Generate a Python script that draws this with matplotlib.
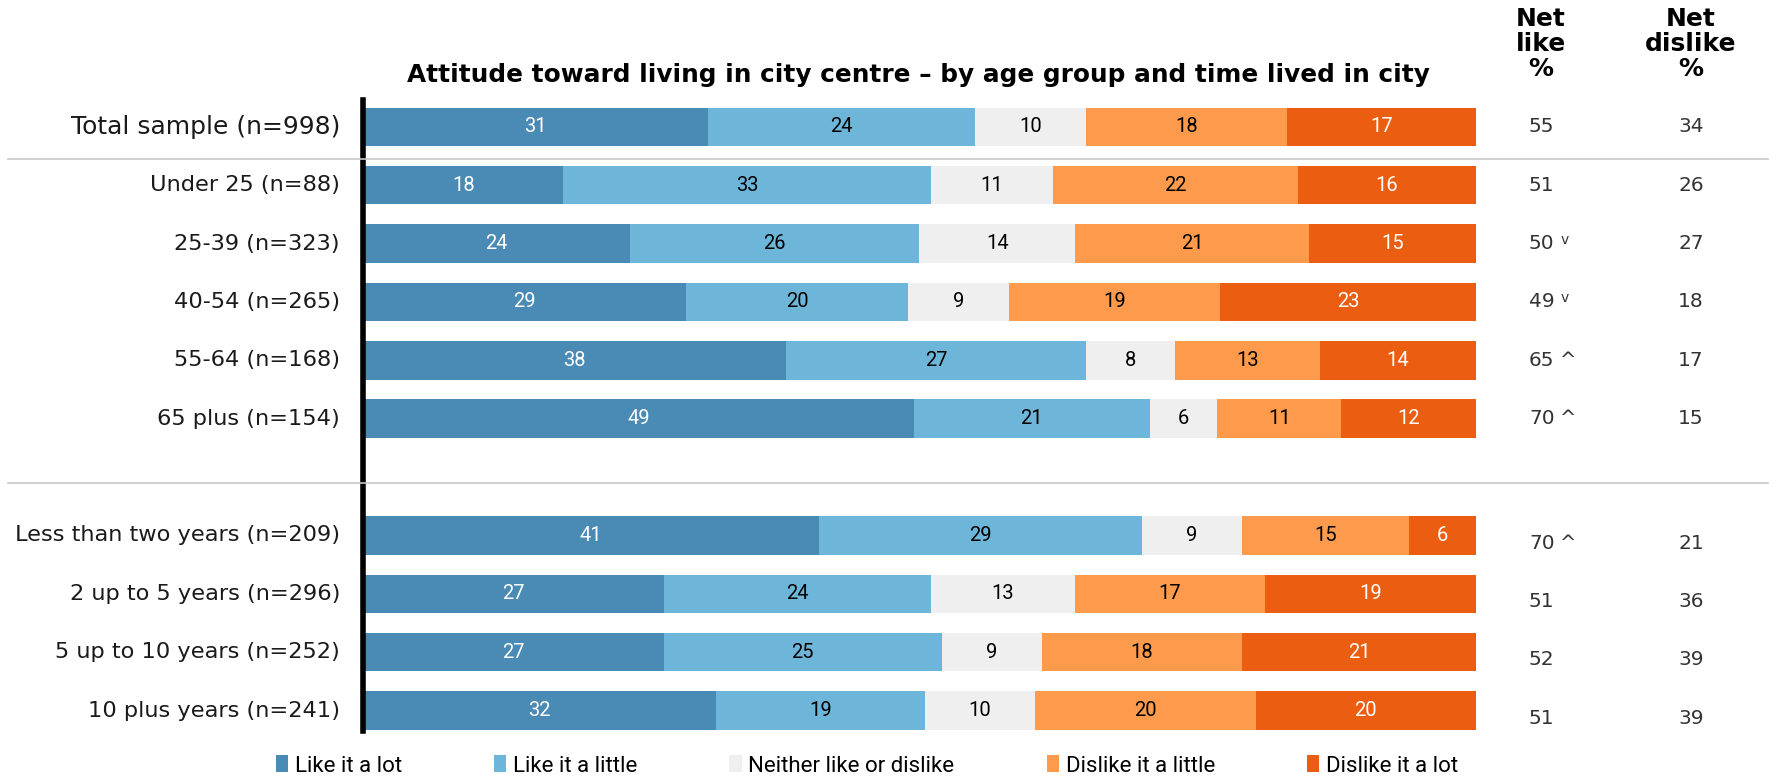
import matplotlib
matplotlib.use("Agg")
import matplotlib.pyplot as plt
from matplotlib.transforms import blended_transform_factory
from matplotlib.patches import Patch
from matplotlib.lines import Line2D

categories = ["Total sample (n=998)", "Under 25 (n=88)", "25-39 (n=323)", "40-54 (n=265)",
              "55-64 (n=168)", "65 plus (n=154)", None,
              "Less than two years (n=209)", "2 up to 5 years (n=296)",
              "5 up to 10 years (n=252)", "10 plus years (n=241)"]
series_names = ["Like it a lot", "Like it a little", "Neither like or dislike",
                "Dislike it a little", "Dislike it a lot"]
like_lot = [31, 18, 24, 29, 38, 49, None, 41, 27, 27, 32]
like_little = [24, 33, 26, 20, 27, 21, None, 29, 24, 25, 19]
neither = [10, 11, 14, 9, 8, 6, None, 9, 13, 9, 10]
dislike_little = [18, 22, 21, 19, 13, 11, None, 15, 17, 18, 20]
dislike_lot = [17, 16, 15, 23, 14, 12, None, 6, 19, 21, 20]
net_like = [55, 51, 50, 49, 65, 70, None, 70, 51, 52, 51]
net_like_flag = ["", "", "v", "v", "^", "^", None, "^", "", "", ""]
net_dislike = [34, 26, 27, 18, 17, 15, None, 21, 36, 39, 39]

colors = ["#4A8BB6", "#6EB6D9", "#EFEFEF", "#FD9A4C", "#EB5E12"]
text_colors = ["white", "black", "black", "black", "white"]

W, H = 1777, 778
fig = plt.figure(figsize=(W / 100, H / 100), dpi=100)
left, right = 363 / W, 1476 / W
top, bottom = 1 - 100 / H, 1 - 731 / H
ax = fig.add_axes([left, bottom, right - left, top - bottom])

label_font = ["Liberation Sans Narrow", "Roboto", "DejaVu Sans"]
main_font = ["DejaVu Sans"]

series = [like_lot, like_little, neither, dislike_little, dislike_lot]
for i, cat in enumerate(categories):
    if cat is None:
        continue
    total = sum(vals[i] for vals in series)  # bars are stretched to full width
    start = 0
    for s, vals in enumerate(series):
        v = vals[i]
        w = v / total * 100
        ax.barh(i, w, left=start, height=0.66, color=colors[s], edgecolor="none")
        ax.text(start + w / 2, i, str(v), ha="center", va="center", fontsize=14.5,
                color=text_colors[s], family=label_font)
        start += w

ax.set_xlim(0, 100)
ax.set_ylim(10.35, -0.46)
ax.axis("off")
ax.axvline(0, color="black", lw=4, clip_on=False)

# category labels
xt = blended_transform_factory(fig.transFigure, ax.transData)
for i, cat in enumerate(categories):
    if cat is None:
        continue
    fs = 18 if i == 0 else 16.2
    ax.text(340 / W, i, cat, transform=xt, ha="right", va="center", fontsize=fs,
            family=main_font, color="#1a1a1a")

# separators
for yy in [0.55, 6.1]:
    fig.add_artist(Line2D([8 / W, 1768 / W], [yy, yy], transform=xt, color="#c8c8c8", lw=1.2))

# net columns
for i in range(len(categories)):
    if net_like[i] is None:
        continue
    yy = i + (0.13 if i > 6 else 0)
    t = ax.text(1529 / W, yy, str(net_like[i]), transform=xt, ha="left", va="center",
                fontsize=14.5, family=main_font, color="#333333")
    flag = net_like_flag[i]
    if flag == "v":
        ax.annotate("v", xy=(1, 1), xycoords=t, xytext=(4, 1), textcoords="offset points",
                    ha="left", va="top", fontsize=10, family=main_font, color="#333333")
    elif flag == "^":
        ax.annotate("^", xy=(1, 0.5), xycoords=t, xytext=(4, 0), textcoords="offset points",
                    ha="left", va="center", fontsize=14, family=main_font, color="#333333")
    ax.text(1691 / W, yy, str(net_dislike[i]), transform=xt, ha="center", va="center",
            fontsize=14.5, family=main_font, color="#333333")

# headers
for xc, txt in [(1541, "Net\nlike\n%"), (1691, "Net\ndislike\n%")]:
    fig.text(xc / W, 1 - 44 / H, txt, ha="center", va="center", fontsize=18,
             fontweight="bold", family=main_font, linespacing=1.05)
fig.text(918 / W, 1 - 75 / H, "Attitude toward living in city centre \u2013 by age group and time lived in city",
         ha="center", va="center", fontsize=17.8, fontweight="bold", family=main_font)

handles = [Patch(facecolor=c, edgecolor="none") for c in colors]
fig.legend(handles, series_names, loc="center", bbox_to_anchor=(867 / W, 1 - 766 / H),
           ncol=5, frameon=False, handlelength=0.55, handleheight=0.8,
           handletextpad=0.3, columnspacing=4.15, prop={"family": label_font, "size": 16})

fig.savefig("out.png", dpi=100)
